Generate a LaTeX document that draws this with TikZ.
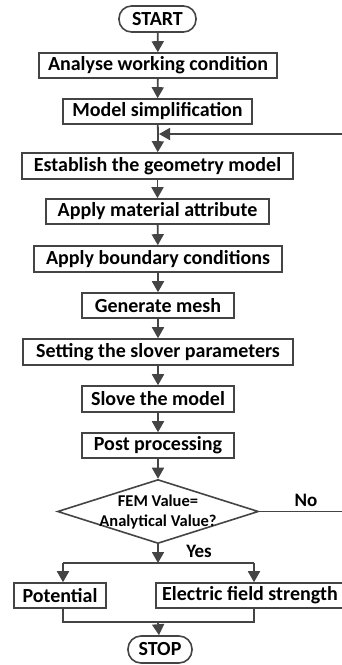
\documentclass[tikz,border=0pt]{standalone}
\usepackage{fontspec}
\setmainfont{Carlito}
\usetikzlibrary{arrows.meta,shapes.geometric,calc}
\definecolor{ln}{HTML}{444444}
\begin{document}
\begin{tikzpicture}[x=1pt,y=-1pt,
  every node/.style={font=\fontsize{20}{22}\selectfont\bfseries},
  box/.style={draw=ln,line width=1.6pt,inner sep=0pt,minimum height=25pt},
  term/.style={draw=ln,line width=1.6pt,inner sep=0pt,minimum height=26pt,rounded corners=12.5pt},
  dia/.style={draw=ln,line width=1.6pt,diamond,inner sep=0pt,minimum width=201pt,minimum height=64pt},
  dtext/.style={inner sep=0pt,font=\fontsize{16.5}{20}\selectfont\bfseries,align=center},
  conn/.style={draw=ln,line width=1.8pt},
  arr/.style={conn,-{Triangle[width=12pt,length=11pt]}},
  lbl/.style={inner sep=0pt,font=\fontsize{19}{22}\selectfont\bfseries}
]
\useasboundingbox (0,0) rectangle (342,665);
\node[term,minimum width=77pt] (start) at (157.5,19) {START};
\node[box,minimum width=238pt] (b1) at (158,65.5) {Analyse working condition};
\node[box,minimum width=189pt] (b2) at (157.5,111.5) {Model simplification};
\node[box,minimum width=271pt,minimum height=26pt] (b3) at (157.5,166) {Establish the geometry model};
\node[box,minimum width=223pt] (b4) at (157.5,211.5) {Apply material attribute};
\node[box,minimum width=248pt,minimum height=26pt] (b5) at (158,259) {Apply boundary conditions};
\node[box,minimum width=152pt] (b6) at (158,305.5) {Generate mesh};
\node[box,minimum width=270pt,minimum height=26pt] (b7) at (158,352) {Setting the slover parameters};
\node[box,minimum width=152pt,minimum height=26pt] (b8) at (158,399) {Slove the model};
\node[box,minimum width=152pt] (b9) at (158,445.5) {Post processing};
\node[dia] (d) at (158,511.5) {};
\node[dtext] (dt) at (158,512) {FEM Value=\\Analytical Value?};
\node[box,minimum width=92pt] (pot) at (60,595.5) {Potential};
\node[box,minimum width=188pt] (ele) at (250,595.5) {Electric field strength};
\node[term,minimum width=64pt,minimum height=27pt,rounded corners=13pt] (stop) at (160,649.5) {STOP};
\node[lbl] (no) at (306,500) {No};
\node[lbl] (yes) at (199,551) {Yes};
\coordinate (fb) at (158,134);
\coordinate (fbr) at (350,134);
\coordinate (dr) at (350,511.5);
\coordinate (sp) at (158,563);
\coordinate (spl) at (63,563);
\coordinate (spr) at (254,563);
\coordinate (mg) at (158,622);
\coordinate (mgl) at (63,622);
\coordinate (mgr) at (254,622);
\draw[arr] (start) -- (b1);
\draw[arr] (b1) -- (b2);
\draw[conn] (b2) -- (fb);
\draw[arr] (fb) -- (b3);
\draw[arr] (b3) -- (b4);
\draw[arr] (b4) -- (b5);
\draw[arr] (b5) -- (b6);
\draw[arr] (b6) -- (b7);
\draw[arr] (b7) -- (b8);
\draw[arr] (b8) -- (b9);
\draw[arr] (b9) -- (d);
\draw[conn] (d.east) -- (dr) -- (fbr);
\draw[arr] (fbr) -- ([xshift=1pt]fb);
\draw[arr] (d.south) -- (sp);
\draw[conn] (spl) -- (spr);
\draw[arr] (spl) -- (spl |- pot.north);
\draw[arr] (spr) -- (spr |- ele.north);
\draw[conn] (mgl |- pot.south) -- (mgl) -- (mgr) -- (mgr |- ele.south);
\draw[arr] (mg) -- (stop);
\end{tikzpicture}
\end{document}
